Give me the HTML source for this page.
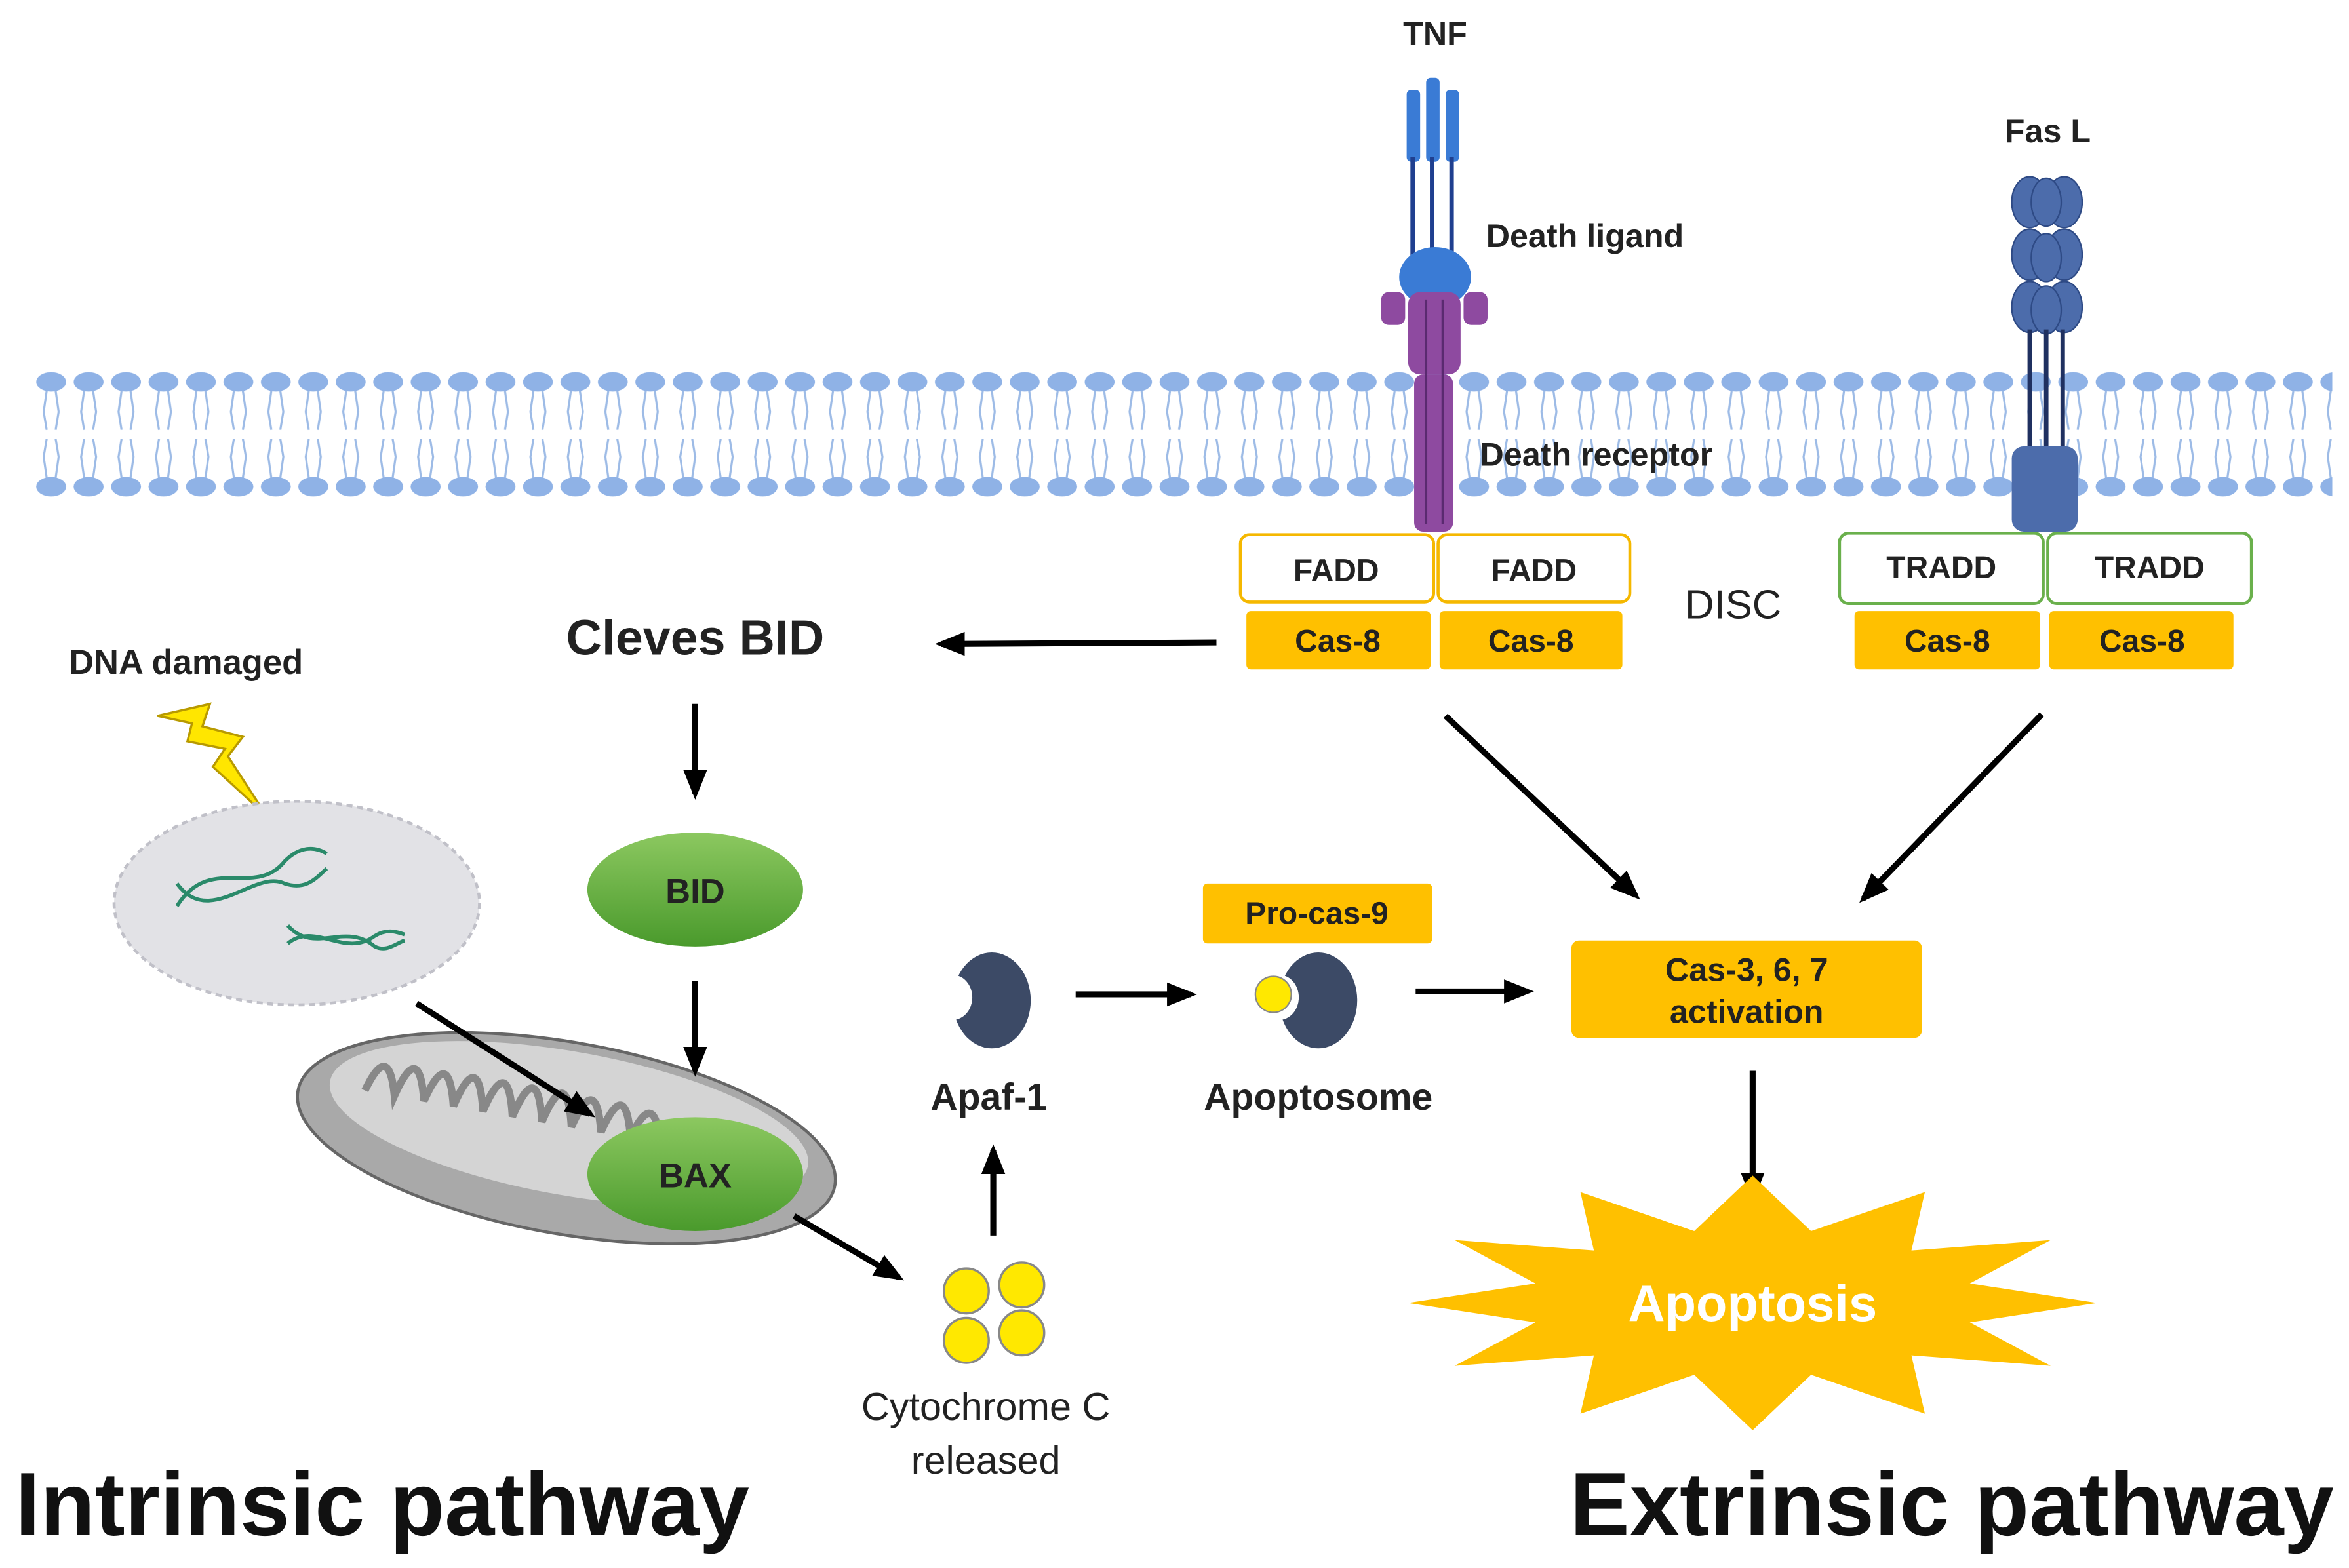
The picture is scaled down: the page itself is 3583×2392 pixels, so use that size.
<!DOCTYPE html>
<html><head><meta charset="utf-8"><style>
html,body{margin:0;padding:0;background:#fff;}
svg{display:block;}
text{font-family:"Liberation Sans",Arial,sans-serif;font-weight:bold;fill:#222;}
</style></head><body>
<svg width="3583" height="2392" viewBox="0 0 1568 1047" xmlns="http://www.w3.org/2000/svg">
<defs>
<pattern id="mem" x="22" y="245" width="25" height="90" patternUnits="userSpaceOnUse">
<g stroke="#9dbbe6" stroke-width="1.4" fill="none">
<path d="M9 16 L7 30 L9 42 M15 16 L17 30 L15 42"/>
<path d="M9 74 L7 60 L9 48 M15 74 L17 60 L15 48"/>
</g>
<ellipse cx="12" cy="10" rx="10" ry="6.5" fill="#8fb2e6"/>
<ellipse cx="12" cy="80" rx="10" ry="6.5" fill="#8fb2e6"/>
</pattern>
<marker id="ar" markerWidth="6" markerHeight="6" refX="4" refY="2" orient="auto" markerUnits="strokeWidth">
<path d="M0,0 L5,2 L0,4 Z" fill="#000"/>
</marker>
<linearGradient id="gr" x1="0" y1="0" x2="0" y2="1"><stop offset="0" stop-color="#8cc860"/><stop offset="1" stop-color="#4a9a2c"/></linearGradient>
</defs>
<rect width="1568" height="1047" fill="#fff"/>
<rect x="22" y="245" width="1535" height="90" fill="url(#mem)"/>

<!-- TNF -->
<text x="958" y="30" font-size="22" text-anchor="middle">TNF</text>
<g fill="#3a7bd5">
<rect x="939" y="60" width="9" height="48" rx="3"/><rect x="952" y="52" width="9" height="56" rx="3"/><rect x="965" y="60" width="9" height="48" rx="3"/>
</g>
<g stroke="#1f3f8f" stroke-width="3"><line x1="943" y1="105" x2="943" y2="175"/><line x1="956" y1="105" x2="956" y2="175"/><line x1="969" y1="105" x2="969" y2="175"/></g>
<ellipse cx="958" cy="185" rx="24" ry="20" fill="#3a7bd5"/>
<g fill="#8e4aa0">
<rect x="940" y="195" width="35" height="55" rx="8"/>
<rect x="922" y="195" width="16" height="22" rx="5"/><rect x="977" y="195" width="16" height="22" rx="5"/>
<rect x="944" y="250" width="26" height="105" rx="6"/>
</g>
<g stroke="#5a2a70" stroke-width="1.5"><line x1="952" y1="200" x2="952" y2="350"/><line x1="963" y1="200" x2="963" y2="350"/></g>
<text x="992" y="165" font-size="22" text-anchor="start">Death ligand</text>
<text x="988" y="311" font-size="22" text-anchor="start">Death receptor</text>

<!-- Fas L -->
<text x="1367" y="95" font-size="22" text-anchor="middle">Fas L</text>
<g fill="#4c6cab" stroke="#2e4a85" stroke-width="1">
<ellipse cx="1355" cy="135" rx="12" ry="17"/><ellipse cx="1378" cy="135" rx="12" ry="17"/>
<ellipse cx="1355" cy="170" rx="12" ry="17"/><ellipse cx="1378" cy="170" rx="12" ry="17"/>
<ellipse cx="1355" cy="205" rx="12" ry="17"/><ellipse cx="1378" cy="205" rx="12" ry="17"/>
<ellipse cx="1366" cy="135" rx="10" ry="16"/><ellipse cx="1366" cy="172" rx="10" ry="16"/><ellipse cx="1366" cy="207" rx="10" ry="16"/>
</g>
<g stroke="#1f3060" stroke-width="3"><line x1="1355" y1="220" x2="1355" y2="300"/><line x1="1366" y1="220" x2="1366" y2="300"/><line x1="1377" y1="220" x2="1377" y2="300"/></g>
<rect x="1343" y="298" width="44" height="57" rx="8" fill="#4c6cab"/>

<!-- FADD / TRADD -->
<g font-size="21">
<rect x="828" y="357" width="129" height="45" rx="6" fill="#fff" stroke="#f5b800" stroke-width="2"/>
<rect x="960" y="357" width="128" height="45" rx="6" fill="#fff" stroke="#f5b800" stroke-width="2"/>
<text x="892" y="388" text-anchor="middle">FADD</text><text x="1024" y="388" text-anchor="middle">FADD</text>
<rect x="832" y="408" width="123" height="39" rx="3" fill="#ffc000"/><rect x="961" y="408" width="122" height="39" rx="3" fill="#ffc000"/>
<text x="893" y="435" text-anchor="middle">Cas-8</text><text x="1022" y="435" text-anchor="middle">Cas-8</text>
<rect x="1228" y="356" width="136" height="47" rx="6" fill="#fff" stroke="#6ab04c" stroke-width="2"/>
<rect x="1367" y="356" width="136" height="47" rx="6" fill="#fff" stroke="#6ab04c" stroke-width="2"/>
<text x="1296" y="386" text-anchor="middle">TRADD</text><text x="1435" y="386" text-anchor="middle">TRADD</text>
<rect x="1238" y="408" width="124" height="39" rx="3" fill="#ffc000"/><rect x="1368" y="408" width="123" height="39" rx="3" fill="#ffc000"/>
<text x="1300" y="435" text-anchor="middle">Cas-8</text><text x="1430" y="435" text-anchor="middle">Cas-8</text>
</g>
<text x="1157" y="413" font-size="27" text-anchor="middle" style="font-weight:normal">DISC</text>

<text x="464" y="437" font-size="33" text-anchor="middle">Cleves BID</text>
<text x="124" y="450" font-size="23" text-anchor="middle">DNA damaged</text>
<path d="M105 478 L140 470 L135 485 L162 492 L152 505 L178 545 L142 512 L150 500 L125 495 L128 483 Z" fill="#ffe600" stroke="#b89a00" stroke-width="1.5"/>
<ellipse cx="198" cy="603" rx="122" ry="68" fill="#e2e2e6" stroke="#c0c0c8" stroke-width="2" stroke-dasharray="4 3"/>
<g stroke="#2a8a6a" stroke-width="2.5" fill="none">
<path d="M118 605 C140 570 170 600 190 575 C200 565 210 565 218 570"/>
<path d="M118 590 C140 620 170 580 190 590 C205 595 212 585 218 580"/>
<path d="M192 630 C210 615 230 640 250 625 C258 620 264 622 270 624"/>
<path d="M192 618 C210 638 230 615 250 632 C258 636 264 630 270 628"/>
</g>
<ellipse cx="464" cy="594" rx="72" ry="38" fill="url(#gr)"/>
<text x="464" y="603" font-size="23" text-anchor="middle">BID</text>
<!-- mitochondrion -->
<g transform="rotate(10 378 760)">
<ellipse cx="378" cy="760" rx="182" ry="64" fill="#a9a9a9" stroke="#666" stroke-width="2"/>
<ellipse cx="378" cy="750" rx="162" ry="48" fill="#d4d4d4"/>
<path d="M240 752 q10 -36 20 0 q10 -40 20 0 q10 -40 20 0 q10 -42 20 0 q10 -42 20 0 q10 -42 20 0 q10 -42 20 0 q10 -40 20 0 q10 -40 20 0 q10 -36 20 0 q10 -32 20 0 q10 -28 20 0" fill="none" stroke="#888" stroke-width="5"/>
</g>
<ellipse cx="464" cy="784" rx="72" ry="38" fill="url(#gr)"/>
<text x="464" y="793" font-size="23" text-anchor="middle">BAX</text>

<!-- arrows -->
<g stroke="#000" stroke-width="4" fill="none" marker-end="url(#ar)">
<line x1="812" y1="429" x2="628" y2="430"/>
<line x1="464" y1="470" x2="464" y2="530"/>
<line x1="464" y1="655" x2="464" y2="715"/>
<line x1="278" y1="670" x2="394" y2="744"/>
<line x1="530" y1="812" x2="600" y2="853"/>
<line x1="663" y1="825" x2="663" y2="768"/>
<line x1="718" y1="664" x2="795" y2="664"/>
<line x1="945" y1="662" x2="1020" y2="662"/>
<line x1="965" y1="478" x2="1092" y2="598"/>
<line x1="1363" y1="477" x2="1244" y2="600"/>
<line x1="1170" y1="715" x2="1170" y2="799"/>
</g>

<!-- cytochrome -->
<g fill="#ffe800" stroke="#888" stroke-width="1.5">
<circle cx="645" cy="862" r="15"/><circle cx="682" cy="858" r="15"/><circle cx="645" cy="895" r="15"/><circle cx="682" cy="890" r="15"/>
</g>
<text x="658" y="948" font-size="26" text-anchor="middle" style="font-weight:normal;fill:#222">Cytochrome C</text>
<text x="658" y="984" font-size="26" text-anchor="middle" style="font-weight:normal">released</text>

<!-- Apaf-1 -->
<ellipse cx="662" cy="668" rx="26" ry="32" fill="#3c4a66"/>
<ellipse cx="636" cy="666" rx="13" ry="15" fill="#fff"/>
<text x="660" y="741" font-size="25" text-anchor="middle">Apaf-1</text>
<rect x="803" y="590" width="153" height="40" rx="3" fill="#ffc000"/>
<text x="879" y="617" font-size="21" text-anchor="middle">Pro-cas-9</text>
<ellipse cx="880" cy="668" rx="26" ry="32" fill="#3c4a66"/>
<ellipse cx="854" cy="666" rx="13" ry="15" fill="#fff"/>
<circle cx="850" cy="664" r="12" fill="#ffe800" stroke="#888" stroke-width="1"/>
<text x="880" y="741" font-size="25" text-anchor="middle">Apoptosome</text>

<rect x="1049" y="628" width="234" height="65" rx="5" fill="#ffc000"/>
<text x="1166" y="655" font-size="22" text-anchor="middle">Cas-3, 6, 7</text>
<text x="1166" y="683" font-size="22" text-anchor="middle">activation</text>

<polygon fill="#ffc000" points="1400,870 1315,883 1369,912 1276,905 1285,944 1209,918 1170,955 1131,918 1055,944 1064,905 971,912 1025,883 940,870 1025,857 971,828 1064,835 1055,796 1131,822 1170,785 1209,822 1285,796 1276,835 1369,828 1315,857"/>
<text x="1170" y="882" font-size="34" text-anchor="middle" style="fill:#fff">Apoptosis</text>

<text x="10" y="1025" font-size="60" text-anchor="start" style="fill:#111">Intrinsic pathway</text>
<text x="1558" y="1025" font-size="60" text-anchor="end" style="fill:#111">Extrinsic pathway</text>
</svg>
</body></html>
